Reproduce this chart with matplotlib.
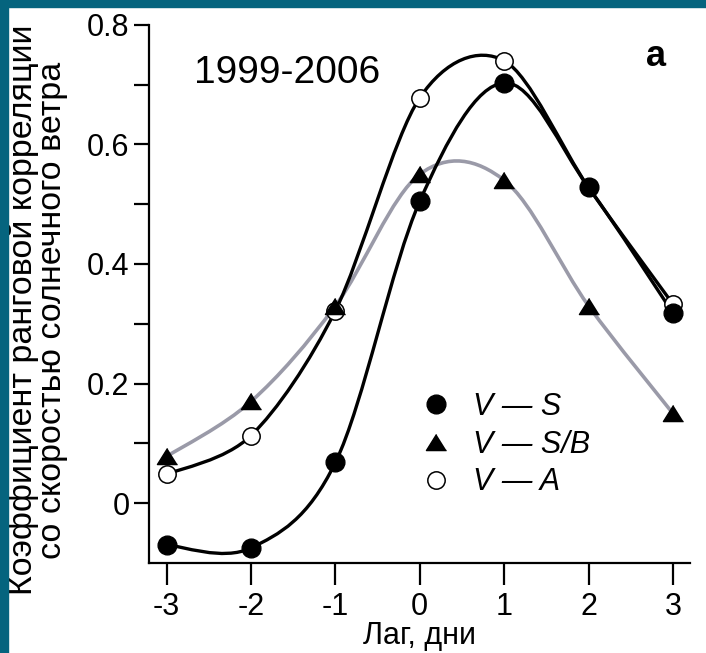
import numpy as np
import matplotlib
matplotlib.use('Agg')
from matplotlib import pyplot as plt
from matplotlib.path import Path
from matplotlib.patches import PathPatch, Rectangle

lag = [-3, -2, -1, 0, 1, 2, 3]
v_s = [-0.070, -0.075, 0.068, 0.505, 0.703, 0.528, 0.318]
v_sb = [0.078, 0.170, 0.330, 0.550, 0.540, 0.330, 0.150]
v_a = [0.048, 0.113, 0.322, 0.678, 0.740, 0.528, 0.333]
labels = ['V — S', 'V — S/B', 'V — A']

plt.rcParams['font.family'] = ['Liberation Sans', 'DejaVu Sans']


def smooth_path(x, y, k=6.0):
    # кривая Безье через точки (Catmull-Rom)
    x = np.asarray(x, float)
    y = np.asarray(y, float)
    n = len(x)
    verts = [(x[0], y[0])]
    codes = [Path.MOVETO]
    for i in range(n - 1):
        i0 = max(i - 1, 0)
        i3 = min(i + 2, n - 1)
        c1 = (x[i] + (x[i + 1] - x[i0]) / k, y[i] + (y[i + 1] - y[i0]) / k)
        c2 = (x[i + 1] - (x[i3] - x[i]) / k, y[i + 1] - (y[i3] - y[i]) / k)
        verts += [c1, c2, (x[i + 1], y[i + 1])]
        codes += [Path.CURVE4] * 3
    return Path(verts, codes)


fig = plt.figure(figsize=(7.06, 6.53), dpi=100)
fig.patches.append(Rectangle((0, 0.989), 1, 0.011, transform=fig.transFigure,
                             color='#05647e', zorder=10))
fig.patches.append(Rectangle((0, 0), 0.0115, 1, transform=fig.transFigure,
                             color='#05647e', zorder=10))

ax = fig.add_axes([0.211, 0.138, 0.766, 0.824])

ax.add_patch(PathPatch(smooth_path(lag, v_sb), fill=False, ec='#9a9aa8', lw=2.6, zorder=2))
ax.add_patch(PathPatch(smooth_path(lag, v_a, 6.5), fill=False, ec='black', lw=2.4, zorder=2))
ax.add_patch(PathPatch(smooth_path(lag, v_s), fill=False, ec='black', lw=2.4, zorder=2))

tri = [(0, 0.8), (-1, -0.8), (1, -0.8)]
ax.plot(lag, v_s, 'o', color='black', ms=13.5, ls='none', label=labels[0], zorder=4)
ax.plot(lag, v_sb, marker=tri, color='black', ms=14.5, ls='none', label=labels[1], zorder=4)
ax.plot(lag, v_a, 'o', mfc='white', mec='black', mew=1.1, ms=12.5, ls='none',
        label=labels[2], zorder=3)

ax.set_xlim(-3.21, 3.2)
ax.set_ylim(-0.1, 0.8)
ax.set_xticks(lag)
ax.set_xticklabels([str(v) for v in lag])
yt = np.round(np.arange(0, 0.81, 0.1), 1)
ax.set_yticks(yt)
ax.set_yticklabels(['0' if v == 0 else ('%.1f' % v if round(v * 10) % 2 == 0 else '')
                    for v in yt])

for s in ['top', 'right']:
    ax.spines[s].set_visible(False)
for s in ['left', 'bottom']:
    ax.spines[s].set_linewidth(1.6)

ax.tick_params(axis='x', direction='out', length=16, width=1.6, labelsize=22, pad=5)
ax.tick_params(axis='y', direction='out', length=11, width=1.6, labelsize=22, pad=3)

ax.set_xlabel('Лаг, дни', fontsize=22, labelpad=-1)
ax.set_ylabel('Коэффициент ранговой корреляции\nсо скоростью солнечного ветра',
              fontsize=24.5, linespacing=0.92)
ax.yaxis.set_label_coords(-0.149, 0.47)

ax.text(0.083, 0.91, '1999-2006', transform=ax.transAxes, fontsize=28,
        ha='left', va='center')
ax.text(0.92, 0.942, 'a', transform=ax.transAxes, fontsize=26,
        fontweight='bold', ha='left', va='center')

leg = ax.legend(loc='upper left', bbox_to_anchor=(0.466, 0.34), frameon=False,
                prop={'style': 'italic', 'size': 22}, handletextpad=0.45,
                labelspacing=0.25, handlelength=1.5, borderaxespad=0)

fig.savefig('out.png', dpi=100)
